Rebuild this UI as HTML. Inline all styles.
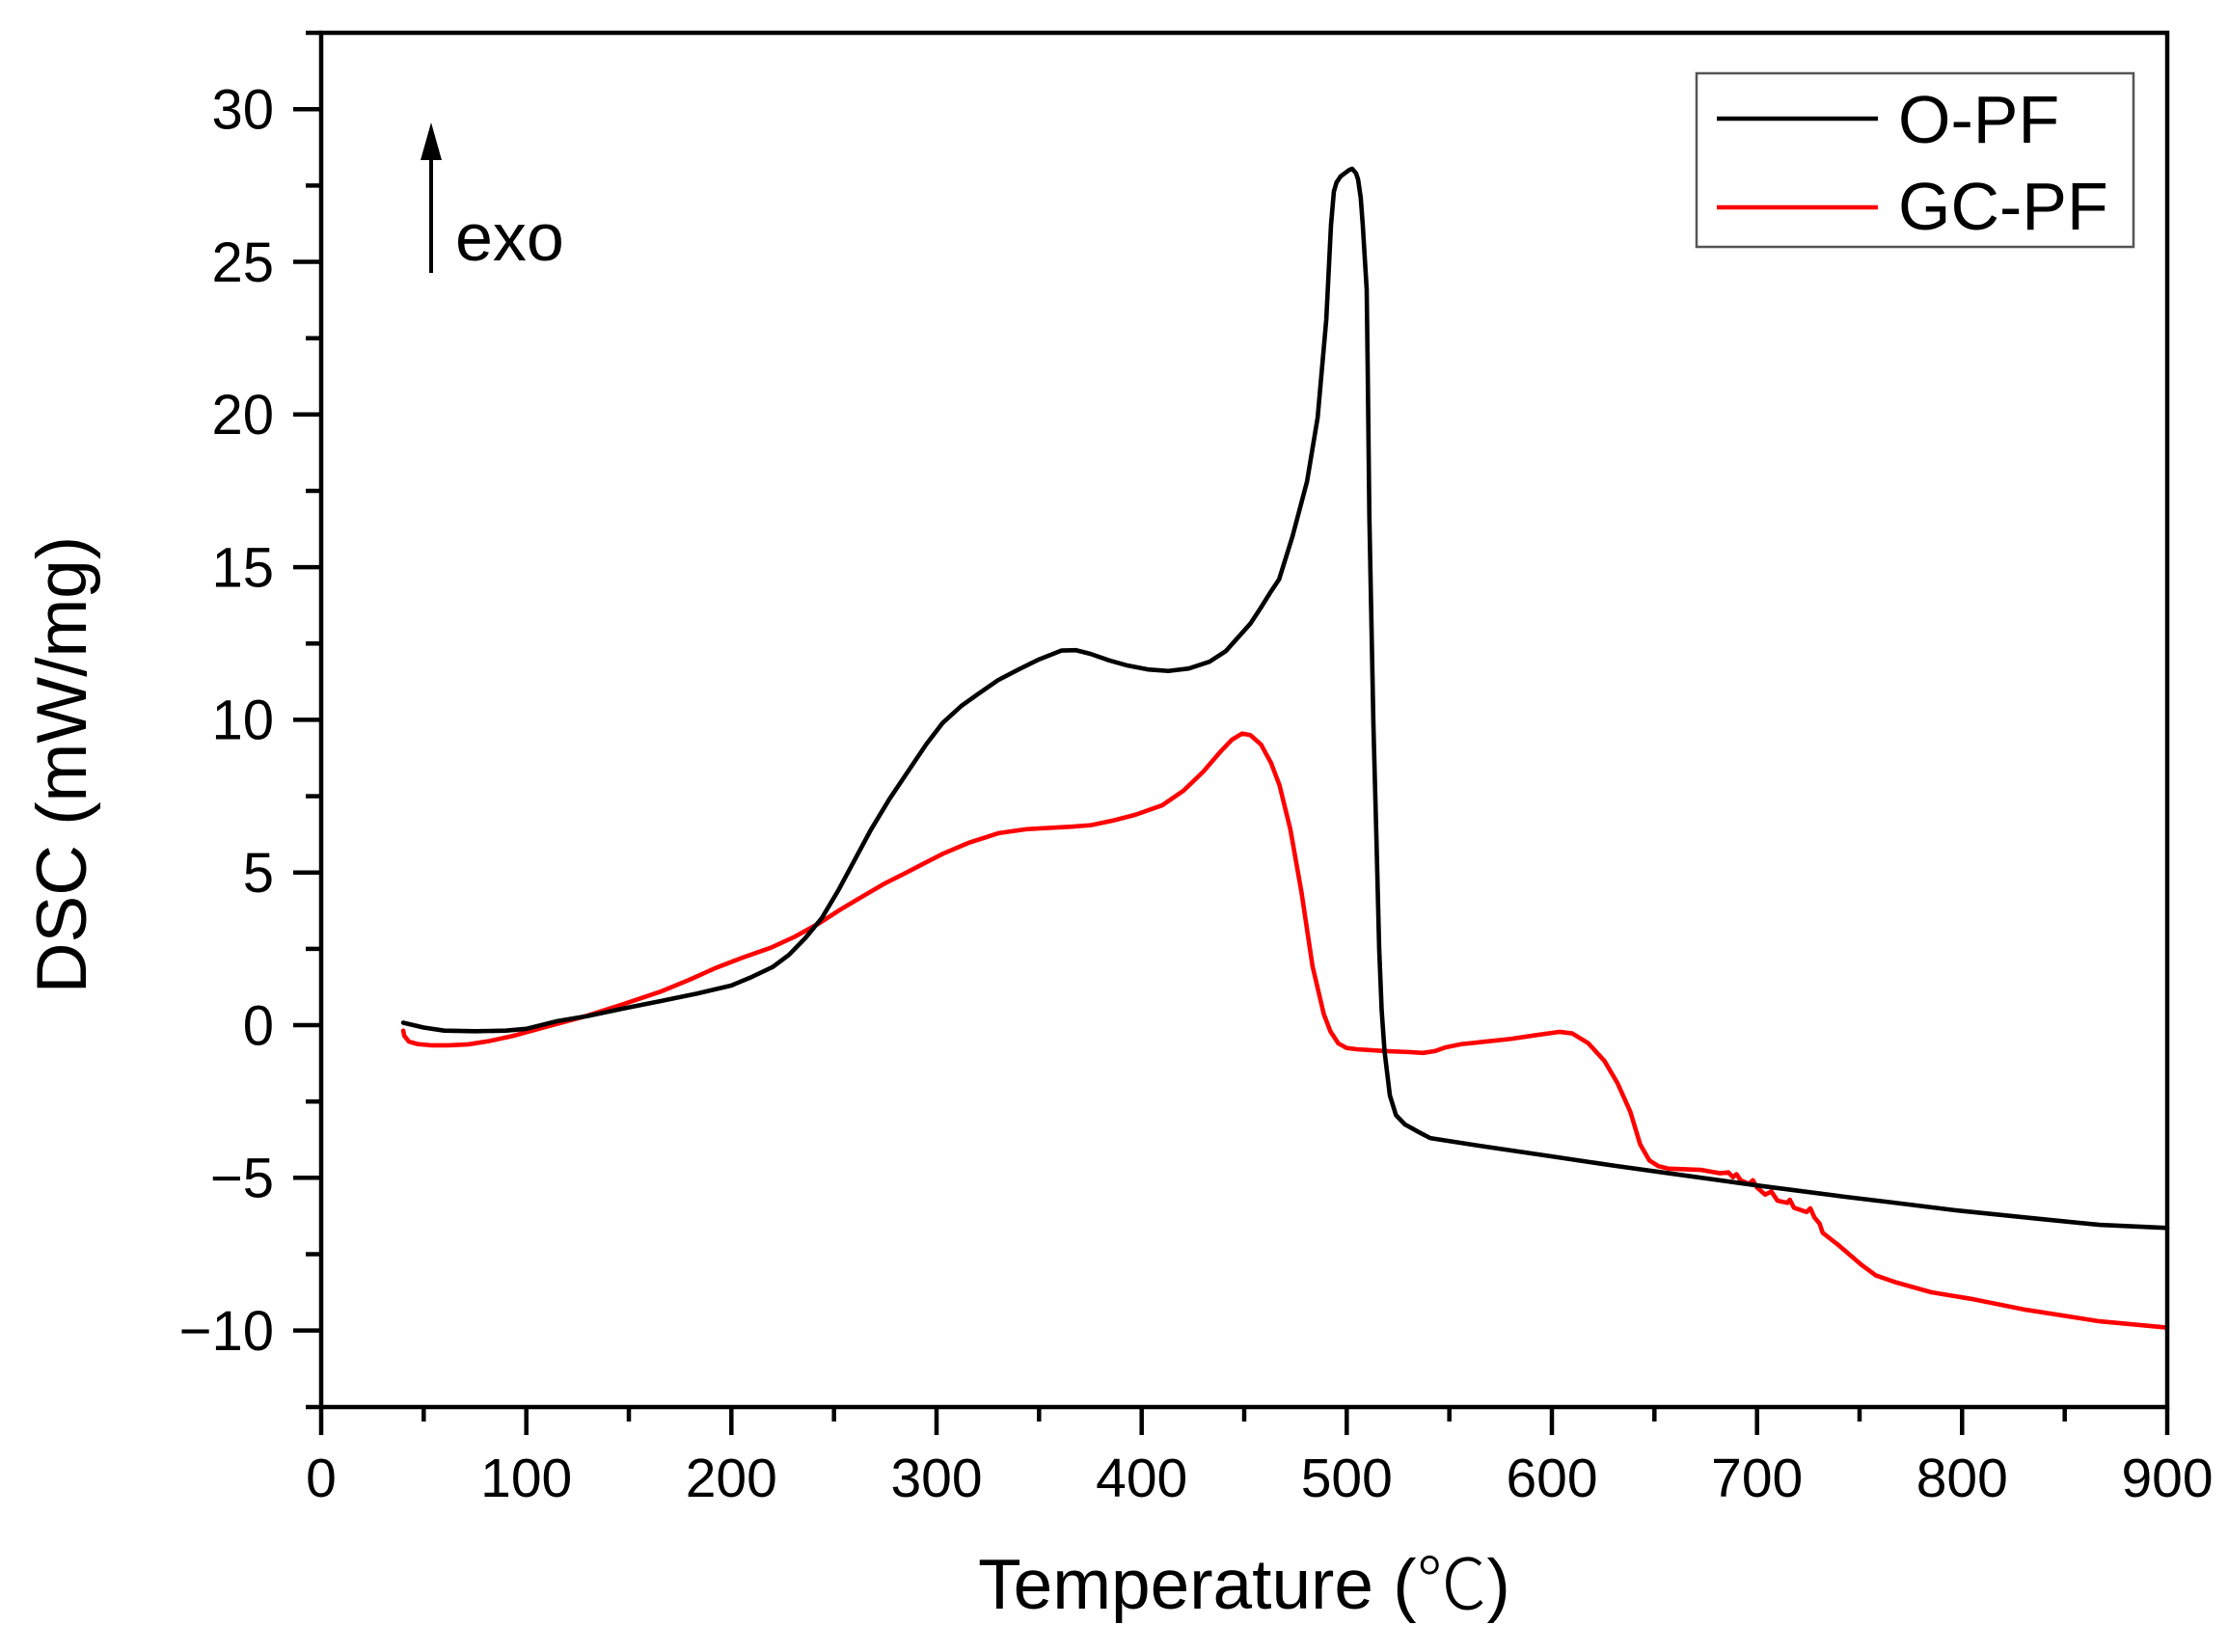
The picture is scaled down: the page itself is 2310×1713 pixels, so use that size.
<!DOCTYPE html>
<html>
<head>
<meta charset="utf-8">
<style>
  html, body { margin: 0; padding: 0; background: #fff; }
  svg { display: block; }
  text { font-family: "Liberation Sans", Arial, "Noto Sans CJK SC", sans-serif; fill: #000; }
</style>
</head>
<body>
<svg width="2310" height="1713" viewBox="0 0 2310 1713" xmlns="http://www.w3.org/2000/svg">
  <rect x="0" y="0" width="2310" height="1713" fill="#fff"/>

  <!-- curves -->
  <g transform="matrix(2.1267 0 0 -31.66 333 1063)" fill="none" stroke-linejoin="round" stroke-linecap="round">
    <polyline vector-effect="non-scaling-stroke" stroke="#ff0000" stroke-width="4.6" points="
      40,-0.18 40.5,-0.35 42.8,-0.54 47,-0.62 53.6,-0.66 62,-0.66 71.7,-0.63 82,-0.52 93.1,-0.36 110,-0.05
      129.3,0.3 147,0.68 165.2,1.09 180,1.5 192.2,1.87 205,2.2 219.4,2.54 231,2.9 242.6,3.33 253,3.78
      264.3,4.23 275,4.65 285.4,5.0 294,5.3 303.3,5.62 316,5.98 330.4,6.29 344,6.42 357.4,6.47 366,6.5
      375.3,6.55 386,6.7 396.9,6.89 410,7.2 420.4,7.68 430,8.3 438.2,8.94 444,9.35 449,9.55 453,9.5
      458.2,9.19 463,8.6 467.2,7.86 472.5,6.41 477.9,4.36 483.3,1.93 488.8,0.36 492,-0.2 495.9,-0.6 500,-0.75
      504.9,-0.79 519.2,-0.85 530,-0.88 537.2,-0.91 543,-0.85 548,-0.73 556,-0.62 567.6,-0.54 580,-0.45 592,-0.33
      603.6,-0.22 609.9,-0.27 617.7,-0.59 625.6,-1.17 632,-1.9 638.3,-2.85 643,-3.9 647.5,-4.43 652,-4.62 656.9,-4.7
      665,-4.72 672.6,-4.74 682,-4.85 686,-4.82 688.3,-4.98 690,-4.88 692,-5.08 696,-5.2 698,-5.08 700,-5.32
      704,-5.55 707,-5.45 710,-5.75 714.8,-5.82 716,-5.72 718,-5.98 724.2,-6.12 726,-6.0 728,-6.3 730.5,-6.5
      732,-6.8 740,-7.22 750.9,-7.85 758,-8.2 768,-8.43 785,-8.75 804,-8.96 830.9,-9.32 867,-9.7 899,-9.9 900,-9.9"/>
    <polyline vector-effect="non-scaling-stroke" stroke="#000" stroke-width="4.6" points="
      40,0.08 50,-0.08 60,-0.18 75,-0.2 90,-0.18 100,-0.12 115,0.13 130,0.3 147,0.54 165,0.78
      183,1.03 200,1.3 210,1.58 220,1.9 228,2.3 236,2.85 244,3.5 252,4.4 260,5.4 268,6.4
      277,7.4 285,8.2 295,9.2 303,9.9 312,10.45 321,10.88 330,11.3 340,11.65 350,11.98 361,12.27
      368,12.28 375,12.16 384,11.95 393,11.78 403,11.65 413,11.6 423,11.68 433,11.9 441,12.25 447,12.7
      453,13.15 458,13.66 463,14.2 467,14.6 473.5,16.0 480.6,17.8 485.8,19.9 490,23.1 492.3,26.2 493.7,27.3
      495,27.6 497,27.8 499,27.9 501,28.0 502.6,28.05 504.5,27.9 505.5,27.7 506.8,27.1 507.8,26.2 509.7,24.1 510.2,21.5 511,16.7 511.6,14.6 513,9.8
      514.5,6 515.8,2.5 517,0.5 518.4,-0.85 521,-2.3 524,-2.95 528.3,-3.25 535,-3.5 540.7,-3.7 555,-3.85
      567.6,-3.98 600,-4.3 630,-4.6 656.9,-4.85 700,-5.25 741.5,-5.61 765,-5.8 796.4,-6.06 835.6,-6.33 867,-6.54
      899,-6.64 900,-6.65"/>
  </g>

  <!-- frame -->
  <rect x="333" y="34" width="1914" height="1425" fill="none" stroke="#000" stroke-width="4.5"/>

  <!-- y ticks -->
  <g stroke="#000" stroke-width="4.5">
    <line x1="304" y1="113.2" x2="333" y2="113.2"/>
    <line x1="304" y1="271.5" x2="333" y2="271.5"/>
    <line x1="304" y1="429.8" x2="333" y2="429.8"/>
    <line x1="304" y1="588.1" x2="333" y2="588.1"/>
    <line x1="304" y1="746.4" x2="333" y2="746.4"/>
    <line x1="304" y1="904.7" x2="333" y2="904.7"/>
    <line x1="304" y1="1063" x2="333" y2="1063"/>
    <line x1="304" y1="1221.3" x2="333" y2="1221.3"/>
    <line x1="304" y1="1379.6" x2="333" y2="1379.6"/>
    <line x1="317" y1="34" x2="333" y2="34"/>
    <line x1="317" y1="192.4" x2="333" y2="192.4"/>
    <line x1="317" y1="350.7" x2="333" y2="350.7"/>
    <line x1="317" y1="509" x2="333" y2="509"/>
    <line x1="317" y1="667.3" x2="333" y2="667.3"/>
    <line x1="317" y1="825.6" x2="333" y2="825.6"/>
    <line x1="317" y1="983.9" x2="333" y2="983.9"/>
    <line x1="317" y1="1142.2" x2="333" y2="1142.2"/>
    <line x1="317" y1="1300.5" x2="333" y2="1300.5"/>
    <line x1="317" y1="1459" x2="333" y2="1459"/>
  </g>

  <!-- x ticks -->
  <g stroke="#000" stroke-width="4.5">
    <line x1="333" y1="1459" x2="333" y2="1488"/>
    <line x1="545.7" y1="1459" x2="545.7" y2="1488"/>
    <line x1="758.3" y1="1459" x2="758.3" y2="1488"/>
    <line x1="971" y1="1459" x2="971" y2="1488"/>
    <line x1="1183.7" y1="1459" x2="1183.7" y2="1488"/>
    <line x1="1396.3" y1="1459" x2="1396.3" y2="1488"/>
    <line x1="1609" y1="1459" x2="1609" y2="1488"/>
    <line x1="1821.7" y1="1459" x2="1821.7" y2="1488"/>
    <line x1="2034.3" y1="1459" x2="2034.3" y2="1488"/>
    <line x1="2247" y1="1459" x2="2247" y2="1488"/>
    <line x1="439.3" y1="1459" x2="439.3" y2="1474"/>
    <line x1="652" y1="1459" x2="652" y2="1474"/>
    <line x1="864.7" y1="1459" x2="864.7" y2="1474"/>
    <line x1="1077.3" y1="1459" x2="1077.3" y2="1474"/>
    <line x1="1290" y1="1459" x2="1290" y2="1474"/>
    <line x1="1502.7" y1="1459" x2="1502.7" y2="1474"/>
    <line x1="1715.3" y1="1459" x2="1715.3" y2="1474"/>
    <line x1="1928" y1="1459" x2="1928" y2="1474"/>
    <line x1="2140.7" y1="1459" x2="2140.7" y2="1474"/>
  </g>

  <!-- y tick labels -->
  <g font-size="58" text-anchor="end">
    <text x="284" y="133.5">30</text>
    <text x="284" y="291.8">25</text>
    <text x="284" y="450.1">20</text>
    <text x="284" y="608.4">15</text>
    <text x="284" y="766.7">10</text>
    <text x="284" y="925">5</text>
    <text x="284" y="1083.3">0</text>
    <text x="284" y="1241.6">−5</text>
    <text x="284" y="1399.9">−10</text>
  </g>

  <!-- x tick labels -->
  <g font-size="57" text-anchor="middle">
    <text x="333" y="1552">0</text>
    <text x="545.7" y="1552">100</text>
    <text x="758.3" y="1552">200</text>
    <text x="971" y="1552">300</text>
    <text x="1183.7" y="1552">400</text>
    <text x="1396.3" y="1552">500</text>
    <text x="1609" y="1552">600</text>
    <text x="1821.7" y="1552">700</text>
    <text x="2034.3" y="1552">800</text>
    <text x="2247" y="1552">900</text>
  </g>

  <!-- axis titles -->
  <text x="1290" y="1668" font-size="73" text-anchor="middle">Temperature (<tspan font-family="'Noto Sans CJK SC', sans-serif" font-weight="300">℃</tspan>)</text>
  <text transform="translate(89,793) rotate(-90)" font-size="73" text-anchor="middle">DSC (mW/mg)</text>

  <!-- exo arrow -->
  <line x1="447" y1="283" x2="447" y2="160" stroke="#000" stroke-width="4"/>
  <polygon points="447,127 436,166 458,166" fill="#000"/>
  <text x="472" y="270" font-size="70">exo</text>

  <!-- legend -->
  <rect x="1759" y="76" width="453" height="180" fill="#fff" stroke="#555" stroke-width="2.5"/>
  <line x1="1780" y1="123" x2="1947" y2="123" stroke="#000" stroke-width="4.5"/>
  <line x1="1780" y1="215" x2="1947" y2="215" stroke="#ff0000" stroke-width="4.5"/>
  <text x="1968" y="148" font-size="70">O-PF</text>
  <text x="1968" y="238" font-size="70">GC-PF</text>
</svg>
</body>
</html>
